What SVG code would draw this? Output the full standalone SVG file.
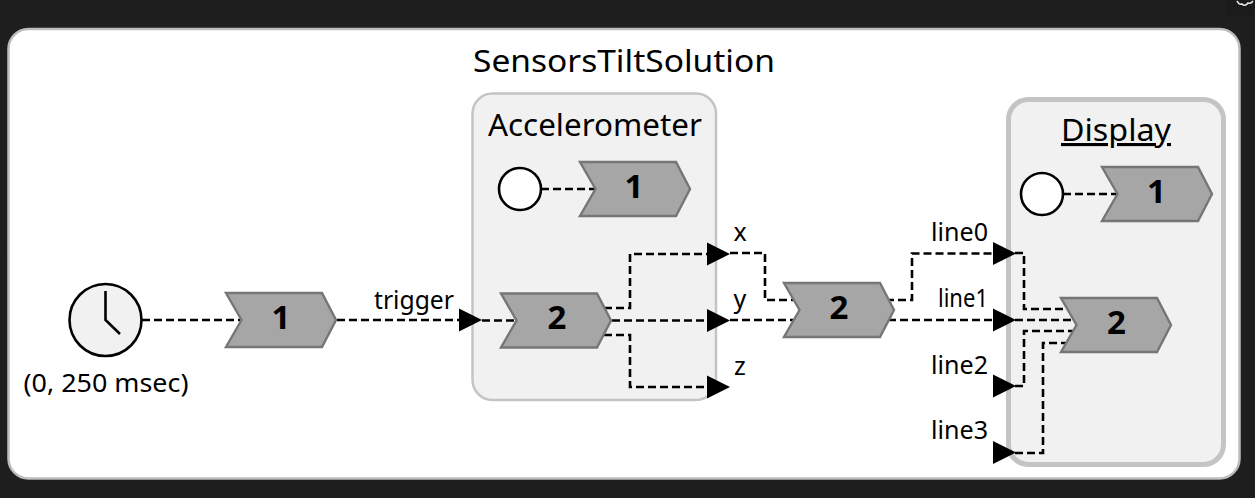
<svg xmlns="http://www.w3.org/2000/svg" width="1255" height="498" viewBox="0 0 1255 498">
<style>
text{font-family:"Noto Sans","DejaVu Sans",sans-serif;fill:#000}
.t{font-size:25px}
.e{text-anchor:end}
.h{font-size:31px}
.m{text-anchor:middle}
.n{font-size:33px;font-weight:bold;text-anchor:middle}
.c{fill:none;stroke:#000;stroke-width:2.6;stroke-dasharray:8 4}
.s{fill:#a6a6a6;stroke:#767676;stroke-width:2.400}
.b{fill:#f1f1f1;stroke:#c4c4c4}
.o{fill:#fff;stroke:#000;stroke-width:2.6}
.a{fill:#000}
</style>
<defs>
<polygon id="chev" class="s" points="1,0 97,0 111,27 97,54 1,54 16.500,27"/>
<polygon id="arr" class="a" points="0,-11.500 23,0 0,11.500"/>
</defs>
<rect width="1255" height="498" fill="#1e1e1e"/>
<rect x="1226" y="0" width="29" height="16" rx="3" fill="#1b1b1b"/>
<path d="M1237 1q2 4 5 3q3 3 6-1q3 1 5-2" fill="none" stroke="#e8e8e8" stroke-width="1.600"/>
<rect id="panel" x="8.500" y="29" width="1231" height="449.500" rx="20" fill="#fff" stroke="#bdbdbd" stroke-width="2.500"/>
<text id="title" x="624" y="72" class="h m" textLength="302" lengthAdjust="spacingAndGlyphs">SensorsTiltSolution</text>

<g id="Accelerometer">
<rect class="b" x="472.500" y="93.500" width="243.500" height="306.500" rx="20" stroke-width="2.500"/>
<text x="595" y="136" class="h m" textLength="214" lengthAdjust="spacingAndGlyphs">Accelerometer</text>
</g>
<g id="Display">
<rect class="b" x="1008.500" y="99.500" width="215" height="365" rx="20" stroke-width="5"/>
<text x="1116" y="141" class="h m" text-decoration="underline" textLength="110" lengthAdjust="spacingAndGlyphs">Display</text>
</g>

<g id="connectors">
<path class="c" d="M142 320H240"/>
<path class="c" d="M337 320H460"/>
<path class="c" d="M482 320.500H516"/>
<path class="c" d="M541 189H595"/>
<path class="c" d="M604 308H630V254H708"/>
<path class="c" d="M612 320.500H708"/>
<path class="c" d="M604 335H630V387H708"/>
<path class="c" d="M730 253H765V300H793"/>
<path class="c" d="M730 320H793"/>
<path class="c" d="M886 300H912V253.500H994"/>
<path class="c" d="M888 320H994"/>
<path class="c" d="M1015 253H1024V309H1066"/>
<path class="c" d="M1015 320H1071"/>
<path class="c" d="M1015 386H1024V331H1075"/>
<path class="c" d="M1015 453H1043V343H1066"/>
<path class="c" d="M1063 194H1117"/>
<use href="#arr" x="459" y="320"/>
<use href="#arr" x="707" y="254"/>
<use href="#arr" x="707" y="320.500"/>
<use href="#arr" x="707" y="387"/>
<use href="#arr" x="993" y="253.500"/>
<use href="#arr" x="993" y="320"/>
<use href="#arr" x="993" y="386"/>
<use href="#arr" x="993" y="452.500"/>
</g>

<g id="clock">
<circle cx="105.500" cy="320" r="36" fill="#f1f1f1" stroke="#000" stroke-width="2.600"/>
<path d="M105.500 291V320L120 334" fill="none" stroke="#000" stroke-width="2.600"/>
<text x="106" y="392" class="t m" textLength="165" lengthAdjust="spacingAndGlyphs">(0, 250 msec)</text>
</g>
<g id="step1"><use href="#chev" x="225" y="293"/><text x="281" y="329" class="n">1</text></g>
<g id="accel-start"><circle class="o" cx="520" cy="189" r="21"/></g>
<g id="accel-1"><use href="#chev" x="579" y="162"/><text x="634" y="198" class="n">1</text></g>
<g id="accel-2"><use href="#chev" x="500" y="293.500"/><text x="557" y="329" class="n">2</text></g>
<g id="step2"><use href="#chev" x="783" y="283"/><text x="839" y="319" class="n">2</text></g>
<g id="display-start"><circle class="o" cx="1042" cy="194" r="21"/></g>
<g id="display-1"><use href="#chev" x="1101" y="167"/><text x="1156.500" y="203" class="n">1</text></g>
<g id="display-2"><use href="#chev" x="1060" y="298"/><text x="1116.500" y="334" class="n">2</text></g>

<g id="labels">
<text x="414" y="309" class="t m" textLength="80" lengthAdjust="spacingAndGlyphs">trigger</text>
<text x="740" y="241" class="t m">x</text>
<text x="740" y="308" class="t m">y</text>
<text x="740" y="375" class="t m">z</text>
<text x="931" y="241" class="t" textLength="57" lengthAdjust="spacingAndGlyphs">line0</text>
<text x="938" y="307" class="t" textLength="50" lengthAdjust="spacingAndGlyphs">line1</text>
<text x="931" y="374" class="t" textLength="57" lengthAdjust="spacingAndGlyphs">line2</text>
<text x="931" y="439" class="t" textLength="57" lengthAdjust="spacingAndGlyphs">line3</text>
</g>
</svg>
